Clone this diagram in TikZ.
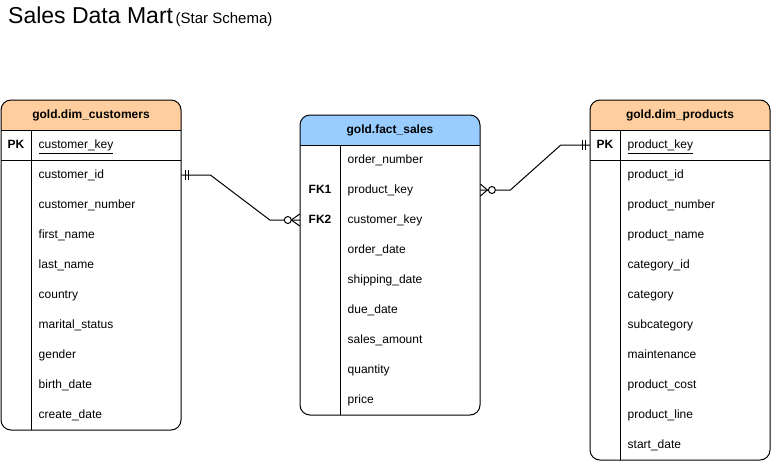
\documentclass[tikz,border=0pt]{standalone}
\usepackage{fontspec}
\setmainfont{Liberation Sans}
\usetikzlibrary{calc}
\definecolor{hdrorange}{HTML}{FFCE9F}
\definecolor{hdrblue}{HTML}{99CCFF}
\tikzset{
  tbl/.style={draw=black, line width=1pt, rounded corners=10pt},
  divline/.style={draw=black, line width=1pt},
  rowtxt/.style={anchor=west, inner xsep=7.5pt, inner ysep=0pt, minimum height=30pt,
     text height=10.4pt, text depth=2.6pt, align=left, font=\fontsize{12}{14}\selectfont},
  keytxt/.style={inner sep=0pt, minimum height=30pt, text height=10.4pt, text depth=2.6pt,
     font=\fontsize{12}{14}\selectfont\bfseries},
  hdrtxt/.style={inner sep=0pt, text height=10.4pt, text depth=2.6pt,
     font=\fontsize{12}{14}\selectfont\bfseries},
  conn/.style={draw=black, line width=1pt},
  endmark/.style={draw=black, line width=1pt}
}
\newcommand{\ulkey}[1]{\underline{\smash{#1}}}
\begin{document}
\begin{tikzpicture}[x=1pt, y=-1pt]
\useasboundingbox (0,0) rectangle (771,461);
\fill[white] (0,0) rectangle (771,461);

% Title
\node[anchor=base west, inner sep=0pt, font=\fontsize{23}{26}\selectfont] (title) at (8,23) {Sales Data Mart};
\node[anchor=base west, inner sep=0pt, font=\fontsize{15}{18}\selectfont] (subtitle) at (175.5,23) {(Star Schema)};

% ---------- dim_customers ----------
\begin{scope}
  \clip (0,99) rectangle (182,130);
  \fill[hdrorange, rounded corners=10pt] (1,100) rectangle (181,430);
\end{scope}
\draw[tbl] (1,100) rectangle (181,430);
\draw[divline] (1,130) -- (181,130);
\draw[divline] (1,160) -- (181,160);
\draw[divline] (31,130) -- (31,430);
\node[hdrtxt] (cust) at (91,115) {gold.dim\_customers};
\node[keytxt, minimum width=30pt] (c_pkk) at (16,145) {PK};
\node[rowtxt, text width=135pt] (c_key) at (31,145) {\underline{customer\_key}};
\node[rowtxt, text width=135pt] (c_id) at (31,175) {customer\_id};
\node[rowtxt, text width=135pt] (c_num) at (31,205) {customer\_number};
\node[rowtxt, text width=135pt] (c_fn) at (31,235) {first\_name};
\node[rowtxt, text width=135pt] (c_ln) at (31,265) {last\_name};
\node[rowtxt, text width=135pt] (c_ctry) at (31,295) {country};
\node[rowtxt, text width=135pt] (c_ms) at (31,325) {marital\_status};
\node[rowtxt, text width=135pt] (c_gen) at (31,355) {gender};
\node[rowtxt, text width=135pt] (c_bd) at (31,385) {birth\_date};
\node[rowtxt, text width=135pt] (c_cd) at (31,415) {create\_date};

% ---------- fact_sales ----------
\begin{scope}
  \clip (299,114) rectangle (481,145);
  \fill[hdrblue, rounded corners=10pt] (300,115) rectangle (480,415);
\end{scope}
\draw[tbl] (300,115) rectangle (480,415);
\draw[divline] (300,145) -- (480,145);
\draw[divline] (340,145) -- (340,415);
\node[hdrtxt] (fact) at (390,130) {gold.fact\_sales};
\node[rowtxt, text width=125pt] (f_on) at (340,160) {order\_number};
\node[keytxt, minimum width=40pt] (f_fk1) at (320,190) {FK1};
\node[rowtxt, text width=125pt] (f_pk) at (340,190) {product\_key};
\node[keytxt, minimum width=40pt] (f_fk2) at (320,220) {FK2};
\node[rowtxt, text width=125pt] (f_ck) at (340,220) {customer\_key};
\node[rowtxt, text width=125pt] (f_od) at (340,250) {order\_date};
\node[rowtxt, text width=125pt] (f_sd) at (340,280) {shipping\_date};
\node[rowtxt, text width=125pt] (f_dd) at (340,310) {due\_date};
\node[rowtxt, text width=125pt] (f_sa) at (340,340) {sales\_amount};
\node[rowtxt, text width=125pt] (f_q) at (340,370) {quantity};
\node[rowtxt, text width=125pt] (f_pr) at (340,400) {price};

% ---------- dim_products ----------
\begin{scope}
  \clip (589,99) rectangle (771,130);
  \fill[hdrorange, rounded corners=10pt] (590,100) rectangle (770,460);
\end{scope}
\draw[tbl] (590,100) rectangle (770,460);
\draw[divline] (590,130) -- (770,130);
\draw[divline] (590,160) -- (770,160);
\draw[divline] (620,130) -- (620,460);
\node[hdrtxt] (prod) at (680,115) {gold.dim\_products};
\node[keytxt, minimum width=30pt] (p_pkk) at (605,145) {PK};
\node[rowtxt, text width=135pt] (p_key) at (620,145) {\underline{product\_key}};
\node[rowtxt, text width=135pt] (p_id) at (620,175) {product\_id};
\node[rowtxt, text width=135pt] (p_num) at (620,205) {product\_number};
\node[rowtxt, text width=135pt] (p_name) at (620,235) {product\_name};
\node[rowtxt, text width=135pt] (p_cid) at (620,265) {category\_id};
\node[rowtxt, text width=135pt] (p_cat) at (620,295) {category};
\node[rowtxt, text width=135pt] (p_sub) at (620,325) {subcategory};
\node[rowtxt, text width=135pt] (p_mt) at (620,355) {maintenance};
\node[rowtxt, text width=135pt] (p_cost) at (620,385) {product\_cost};
\node[rowtxt, text width=135pt] (p_line) at (620,415) {product\_line};
\node[rowtxt, text width=135pt] (p_sd) at (620,445) {start\_date};

% ---------- connectors ----------
% customers (one) -> fact (zero or many)
\draw[conn] (c_id.east) -- ++(29,0) -- ($(f_fk2.west)+(-30,0)$) -- (f_fk2.west);
\draw[endmark] ($(c_id.east)+(4,-5)$) -- ++(0,10);
\draw[endmark] ($(c_id.east)+(7.5,-5)$) -- ++(0,10);
\draw[endmark] ($(f_fk2.west)+(-8.5,0)$) -- ($(f_fk2.west)+(0,-6)$);
\draw[endmark] ($(f_fk2.west)+(-8.5,0)$) -- ($(f_fk2.west)+(0,6)$);
\draw[endmark, fill=white] ($(f_fk2.west)+(-12,0)$) circle[radius=3.5];

% fact (zero or many) -> products (one)
\draw[conn] (f_pk.east) -- ++(30,0) -- ($(p_pkk.west)+(-29,0)$) -- (p_pkk.west);
\draw[endmark] ($(p_pkk.west)+(-4,-5)$) -- ++(0,10);
\draw[endmark] ($(p_pkk.west)+(-7.5,-5)$) -- ++(0,10);
\draw[endmark] ($(f_pk.east)+(7,0)$) -- ($(f_pk.east)+(0,-6)$);
\draw[endmark] ($(f_pk.east)+(7,0)$) -- ($(f_pk.east)+(0,6)$);
\draw[endmark, fill=white] ($(f_pk.east)+(11.5,0)$) circle[radius=3.5];
\end{tikzpicture}
\end{document}
